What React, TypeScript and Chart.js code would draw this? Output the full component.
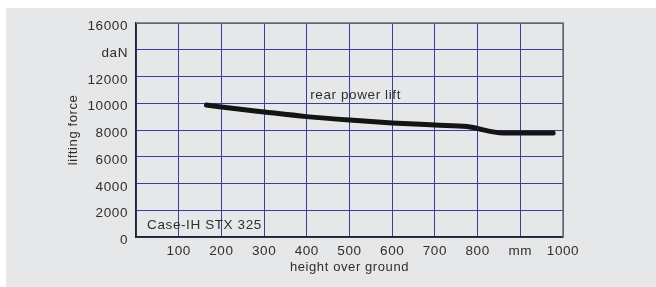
import React, { useEffect, useRef } from "react";
import Chart from "chart.js/auto";

const heights = [165, 200, 300, 400, 500, 600, 700, 775, 860, 977];
const forces = [9870, 9720, 9350, 9000, 8740, 8530, 8370, 8260, 7780, 7780];
const xTickLabels = ["", "100", "200", "300", "400", "500", "600", "700", "800", "mm", "1000"];
const yTickLabels = ["0", "2000", "4000", "6000", "8000", "10000", "12000", "daN", "16000"];
const seriesLabel = "rear power lift";
const modelLabel = "Case-IH STX 325";
const xTitle = "height over ground";
const yTitle = "lifting force";

const FONT = "'Liberation Sans', Arial, Helvetica, sans-serif";
const TEXT = "#2e2e2e";
const GRID = "#34409c";

export default function App() {
  const ref = useRef<HTMLCanvasElement | null>(null);
  useEffect(() => {
    document.body.style.margin = "0";
    document.body.style.overflow = "hidden";
    const canvas = ref.current!;
    const bg = {
      id: "bg",
      beforeDraw(chart: any) {
        const ctx = chart.ctx;
        ctx.save();
        ctx.fillStyle = "#ffffff";
        ctx.fillRect(0, 0, chart.width, chart.height);
        ctx.fillStyle = "#e6e7e9";
        ctx.fillRect(6, 8, chart.width - 6, chart.height - 8);
        ctx.restore();
        (ctx as any).letterSpacing = "0.6px";
      },
    };
    const deco = {
      id: "deco",
      afterDatasetsDraw(chart: any) {
        const ctx = chart.ctx;
        const { left, right, top, bottom } = chart.chartArea;
        const xs = chart.scales.x;
        const ys = chart.scales.y;
        ctx.save();
        ctx.strokeStyle = "#6e6e6e";
        ctx.lineWidth = 1.5;
        ctx.beginPath();
        ctx.moveTo(left, top);
        ctx.lineTo(right, top);
        ctx.lineTo(right, bottom);
        ctx.stroke();
        (ctx as any).letterSpacing = "0.6px";
        ctx.fillStyle = TEXT;
        ctx.font = `13.5px ${FONT}`;
        ctx.textAlign = "left";
        ctx.textBaseline = "middle";
        ctx.fillText(seriesLabel, xs.getPixelForValue(408), ys.getPixelForValue(10560));
        ctx.fillText(modelLabel, xs.getPixelForValue(26), ys.getPixelForValue(850));
        ctx.restore();
      },
    };
    const chart = new Chart(canvas, {
      type: "line",
      data: {
        datasets: [
          {
            label: seriesLabel,
            data: heights.map((h, i) => ({ x: h, y: forces[i] })),
            borderColor: "#141414",
            borderWidth: 5,
            borderCapStyle: "round",
            borderJoinStyle: "round",
            pointRadius: 0,
            cubicInterpolationMode: "monotone",
            fill: false,
          },
        ],
      },
      options: {
        animation: false,
        responsive: false,
        layout: { padding: { left: 66, top: 23, right: 93, bottom: 12 } },
        plugins: { legend: { display: false }, tooltip: { enabled: false } },
        scales: {
          x: {
            type: "linear",
            min: 0,
            max: 1000,
            afterFit: (s: any) => {
              s.height = 38;
            },
            ticks: {
              stepSize: 100,
              autoSkip: false,
              maxRotation: 0,
              padding: 6,
              color: TEXT,
              font: { family: FONT, size: 13.5 },
              callback: (v: any) => xTickLabels[Math.round(Number(v) / 100)] ?? "",
            },
            grid: { color: GRID, lineWidth: 1, drawTicks: false },
            border: { color: "#222222", width: 1.5 },
            title: {
              display: true,
              text: xTitle,
              color: TEXT,
              padding: 0,
              font: { family: FONT, size: 13 },
            },
          },
          y: {
            type: "linear",
            min: 0,
            max: 16000,
            afterFit: (s: any) => {
              s.width = 70;
            },
            ticks: {
              stepSize: 2000,
              autoSkip: false,
              padding: 8,
              labelOffset: 3.5,
              color: TEXT,
              font: { family: FONT, size: 13.5 },
              callback: (v: any) => yTickLabels[Math.round(Number(v) / 2000)] ?? "",
            },
            grid: { color: GRID, lineWidth: 1, drawTicks: false },
            border: { color: "#222222", width: 1.5 },
            title: {
              display: true,
              text: yTitle,
              color: TEXT,
              padding: 0,
              font: { family: FONT, size: 13 },
            },
          },
        },
      },
      plugins: [bg, deco],
    } as any);
    return () => chart.destroy();
  }, []);
  return (
    <div style={{ width: 656, height: 287 }}>
      <canvas ref={ref} width={656} height={287} style={{ display: "block" }} />
    </div>
  );
}
